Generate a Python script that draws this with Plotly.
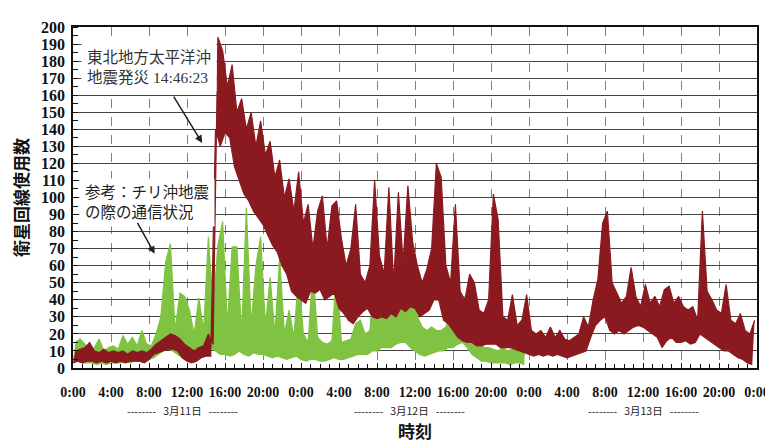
import plotly.graph_objects as go

# half-hour buckets starting 3/11 0:00; low and high readings within each bucket
red_lo = [3, 4, 3, 4, 4, 3, 4, 3, 4, 3, 4, 3, 4, 4, 4, 3, 5, 8, 9, 10,
          11, 11, 10, 6, 4, 3, 4, 6, 7, 7, 140, 130, 138, 135, 118, 110, 102, 98, 92, 88,
          84, 78, 72, 68, 60, 55, 45, 42, 40, 38, 45, 44, 46, 40, 42, 44, 35, 32, 28, 26,
          30, 33, 35, 30, 29, 30, 29, 32, 30, 35, 33, 36, 35, 30, 32, 34, 40, 40, 28, 26,
          22, 18, 16, 15, 15, 13, 13, 14, 14, 14, 12, 12, 12, 11, 10, 9, 8, 7, 8, 7,
          8, 7, 8, 7, 6, 7, 8, 9, 10, 18, 25, 28, 30, 22, 20, 22, 20, 22, 24, 25,
          24, 22, 20, 18, 12, 16, 18, 15, 15, 16, 14, 15, 20, 18, 16, 14, 12, 10, 10, 8,
          6, 5, 3, 2]
red_hi = [10, 11, 12, 15, 10, 9, 11, 9, 10, 9, 10, 8, 10, 9, 10, 9, 11, 14, 16, 18,
          20, 19, 17, 14, 12, 10, 12, 13, 20, 14, 194, 186, 165, 178, 150, 158, 140, 150, 130, 145,
          125, 133, 112, 122, 100, 111, 92, 115, 85, 96, 70, 92, 101, 70, 95, 98, 76, 60, 70, 96,
          55, 50, 60, 110, 66, 55, 106, 50, 103, 62, 107, 74, 60, 50, 58, 70, 120, 112, 60, 50,
          96, 45, 40, 55, 50, 34, 32, 40, 102, 87, 30, 28, 43, 25, 28, 43, 22, 20, 22, 18,
          24, 18, 22, 17, 16, 18, 20, 30, 24, 40, 52, 85, 92, 50, 44, 38, 42, 59, 42, 36,
          49, 38, 42, 36, 46, 48, 38, 42, 36, 34, 36, 28, 92, 45, 40, 34, 32, 49, 28, 26,
          32, 22, 20, 28]

green_lo = [5, 4, 3, 3, 3, 2, 3, 2, 3, 3, 3, 4, 3, 4, 4, 4, 5, 6, 8, 10,
            12, 10, 8, 6, 5, 4, 6, 8, 10, 12, 10, 8, 8, 7, 8, 10, 8, 7, 9, 8,
            8, 7, 6, 7, 6, 5, 6, 7, 5, 4, 5, 5, 4, 4, 5, 6, 5, 5, 6, 7,
            8, 8, 8, 10, 10, 12, 12, 12, 14, 15, 15, 12, 10, 8, 7, 8, 9, 10, 10, 12,
            12, 14, 15, 12, 8, 6, 4, 4, 3, 3, 3, 3, 2, 3, 3, 2]
green_hi = [15, 17, 14, 10, 12, 17, 10, 12, 13, 11, 19, 14, 18, 13, 22, 14, 13, 20, 30, 62,
            73, 22, 44, 42, 34, 20, 41, 22, 77, 35, 72, 86, 25, 71, 71, 20, 94, 25, 60, 77,
            25, 53, 20, 65, 20, 34, 18, 55, 20, 15, 58, 18, 15, 14, 16, 57, 15, 16, 17, 26,
            28, 20, 22, 56, 25, 59, 39, 30, 45, 50, 75, 50, 30, 24, 22, 24, 22, 22, 24, 35,
            28, 35, 42, 28, 20, 15, 12, 12, 11, 10, 12, 10, 11, 10, 12, 28]

x_tick_vals = [0, 4, 8, 12, 16, 20, 24, 28, 32, 36, 40, 44, 48, 52, 56, 60, 64, 68, 72]
x_tick_text = ["0:00", "4:00", "8:00", "12:00", "16:00", "20:00", "0:00", "4:00", "8:00",
               "12:00", "16:00", "20:00", "0:00", "4:00", "8:00", "12:00", "16:00", "20:00", "0:00"]
y_tick_vals = list(range(0, 201, 10))
date_labels = ["--------   3月11日   --------", "--------   3月12日   --------", "--------   3月13日   --------"]
date_pos = [11.5, 35.4, 60.0]

BUCKET = 0.5


def band(lo, hi, color):
    lo_x = [i * BUCKET for i in range(len(lo))]
    hi_x = [i * BUCKET + BUCKET / 2 for i in range(len(hi))]
    return [
        go.Scatter(x=lo_x, y=lo, mode="lines", line=dict(color=color, width=1.2),
                   showlegend=False, hoverinfo="skip"),
        go.Scatter(x=hi_x, y=hi, mode="lines", line=dict(color=color, width=1.2),
                   fill="tonexty", fillcolor=color, showlegend=False, hoverinfo="skip"),
    ]


fig = go.Figure()
for tr in band(green_lo, green_hi, "#80c342"):
    fig.add_trace(tr)
for tr in band(red_lo, red_hi, "#8a1a20"):
    fig.add_trace(tr)

serif = "Liberation Serif, Times New Roman, serif"
cjk = "Liberation Serif, Noto Sans CJK JP, sans-serif"

fig.update_layout(
    width=773, height=442,
    margin=dict(l=65, r=11, t=15, b=65),
    paper_bgcolor="white", plot_bgcolor="white",
    xaxis=dict(
        range=[0, 72], tickvals=x_tick_vals, ticktext=x_tick_text,
        tickfont=dict(family=serif, size=14, color="#111", weight="bold"),
        ticklabelstandoff=10,
        showgrid=True, gridcolor="#808080", gridwidth=1, griddash="dash",
        showline=True, linecolor="#111", linewidth=1.5, mirror=True,
        ticks="inside", ticklen=5, tickcolor="#111",
        minor=dict(dtick=1, ticks="inside", ticklen=4, tickcolor="#111", showgrid=False),
        zeroline=False,
        title=dict(text="時刻", font=dict(family="Noto Sans CJK JP", size=17, color="#111", weight="bold"),
                   standoff=28),
    ),
    yaxis=dict(
        range=[0, 200], tickvals=y_tick_vals,
        tickfont=dict(family=serif, size=16, color="#111", weight="bold"),
        ticklabelstandoff=3,
        showgrid=True, gridcolor="#444", gridwidth=1,
        showline=True, linecolor="#111", linewidth=1.5, mirror=True,
        ticks="", minor=dict(dtick=5, ticks="inside", ticklen=5, tickcolor="#111", showgrid=False),
        zeroline=False,
        title=dict(text="衛星回線使用数", font=dict(family="Noto Sans CJK JP", size=17, color="#111", weight="bold"),
                   standoff=10),
    ),
)

for lab, pos in zip(date_labels, date_pos):
    fig.add_annotation(x=pos, xref="x", y=-0.125, yref="paper", yanchor="middle", text=lab,
                       showarrow=False, font=dict(family="Noto Sans CJK JP", size=10.5, color="#222"))

fig.add_annotation(x=8.0, y=176.5, xref="x", yref="y", text="東北地方太平洋沖<br>地震発災 14:46:23",
                   showarrow=False, align="left", bgcolor="white", borderpad=5,
                   font=dict(family=cjk, size=15.5, color="#333"))
fig.add_annotation(x=13.6, y=132, ax=10.5, ay=160, xref="x", yref="y", axref="x", ayref="y",
                   text="", showarrow=True, arrowhead=2, arrowsize=1, arrowwidth=1.5, arrowcolor="#222")

fig.add_annotation(x=7.8, y=97, xref="x", yref="y", text="参考：チリ沖地震<br>の際の通信状況",
                   showarrow=False, align="left", bgcolor="white", borderpad=5,
                   font=dict(family=cjk, size=15.5, color="#222"))
fig.add_annotation(x=8.6, y=67, ax=6.7, ay=86, xref="x", yref="y", axref="x", ayref="y",
                   text="", showarrow=True, arrowhead=2, arrowsize=1, arrowwidth=1.5, arrowcolor="#222")

fig.write_html("out.html")
